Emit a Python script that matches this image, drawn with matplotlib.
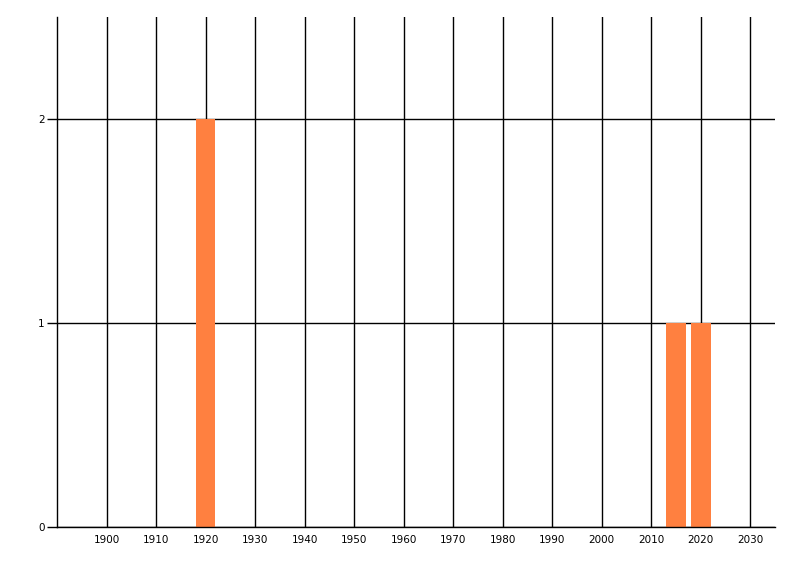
import matplotlib
matplotlib.use("Agg")
import matplotlib.pyplot as plt

years = [1920, 2015, 2020]
counts = [2, 1, 1]
xticks = list(range(1900, 2031, 10))
yticks = [0, 1, 2]

fig = plt.figure(figsize=(8, 5.76), dpi=100)
ax = fig.add_axes([57/800, 49/576, 718/800, 510/576])
ax.set_axisbelow(True)
ax.bar(years, counts, width=4, color="#FF8040", zorder=2)
ax.set_xlim(1890, 2035)
ax.set_ylim(0, 2.5)
ax.set_xticks(xticks)
ax.set_xticklabels([str(t) for t in xticks])
ax.set_yticks(yticks)
ax.set_yticklabels([str(t) for t in yticks])
ax.grid(True, color="black", linewidth=1)
for s in ["top", "right"]:
    ax.spines[s].set_visible(False)
for s in ["left", "bottom"]:
    ax.spines[s].set_color("black")
    ax.spines[s].set_linewidth(1)
ax.tick_params(axis="x", length=0, labelsize=7.5, pad=6)
ax.tick_params(axis="y", length=7, width=1, labelsize=7.5, pad=2)
fig.savefig("out.png", dpi=100)
